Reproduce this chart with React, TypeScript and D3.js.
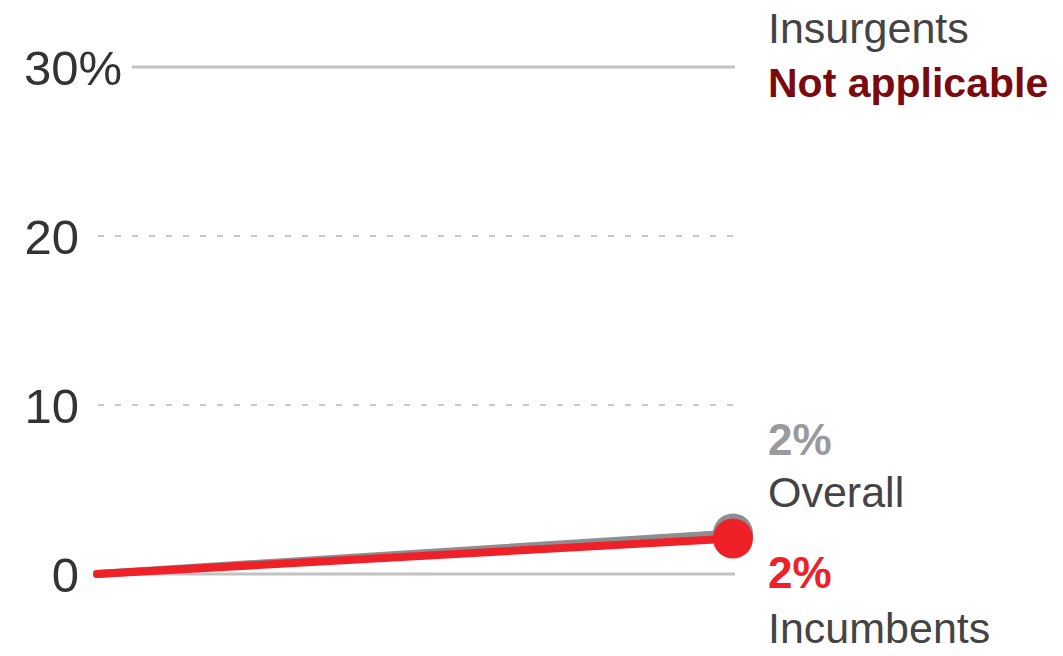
import React from "react";
import * as d3 from "d3";

const periods = ["start", "end"];
const overallValues = [0, 2.4];
const incumbentValues = [0, 2.1];
const yTicks = [0, 10, 20, 30];
const yTickLabels = ["0", "10", "20", "30%"];

const W = 1063;
const H = 656;

export default function App() {
  const x = d3.scalePoint<string>().domain(periods).range([97, 733]);
  const y = d3.scaleLinear().domain([0, 30]).range([574, 67]);
  const line = d3
    .line<number>()
    .x((_, i) => x(periods[i]) as number)
    .y((d) => y(d));
  const font = "'Liberation Sans', Arial, sans-serif";
  const lastX = x(periods[periods.length - 1]) as number;

  return (
    <svg
      width={W}
      height={H}
      style={{ position: "absolute", left: 0, top: 0, background: "#fff" }}
      fontFamily={font}
    >
      {yTicks.map((t, i) => {
        const solid = t === 0 || t === 30;
        const x0 = t === 30 ? 132 : 98;
        return (
          <g key={t}>
            <line
              x1={x0}
              x2={735}
              y1={y(t)}
              y2={y(t)}
              stroke={solid ? "#c2c2c2" : "#c8c8c8"}
              strokeWidth={solid ? 3 : 2}
              strokeDasharray={solid ? undefined : "6 11"}
            />
            <text
              x={t === 30 ? 122 : 79}
              y={y(t)}
              dy="0.36em"
              textAnchor="end"
              fontSize={49}
              fill="#333"
            >
              {yTickLabels[i]}
            </text>
          </g>
        );
      })}

      <path
        d={line(overallValues) || ""}
        fill="none"
        stroke="#8d8d92"
        strokeWidth={8}
        strokeLinecap="round"
      />
      <circle cx={lastX} cy={y(overallValues[1])} r={20} fill="#8d8d92" />
      <path
        d={line(incumbentValues) || ""}
        fill="none"
        stroke="#ee2128"
        strokeWidth={8}
        strokeLinecap="round"
      />
      <circle cx={lastX} cy={y(incumbentValues[1])} r={20} fill="#ee2128" />

      <text x={768} y={43} fontSize={43} fill="#444">Insurgents</text>
      <text x={768} y={97} fontSize={41} fontWeight="bold" fill="#7a0a0e">
        Not applicable
      </text>

      <text x={768} y={455} fontSize={44} fontWeight="bold" fill="#9a9a9e">
        {`${Math.round(overallValues[1])}%`}
      </text>
      <text x={768} y={507} fontSize={43} fill="#444">Overall</text>

      <text x={768} y={588} fontSize={44} fontWeight="bold" fill="#ee2128">
        {`${Math.round(incumbentValues[1])}%`}
      </text>
      <text x={768} y={643} fontSize={43} fill="#444">Incumbents</text>
    </svg>
  );
}
